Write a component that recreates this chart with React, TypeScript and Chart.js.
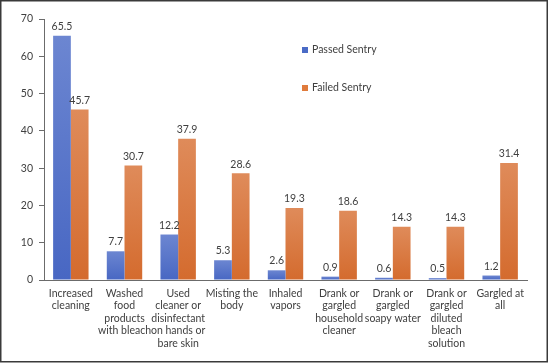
import React, { useEffect, useRef } from "react";
import { Chart, registerables } from "chart.js";

Chart.register(...registerables);

const categories: string[][] = [
  ["Increased", "cleaning"],
  ["Washed", "food", "products", "with bleach"],
  ["Used", "cleaner or", "disinfectant", "on hands or", "bare skin"],
  ["Misting the", "body"],
  ["Inhaled", "vapors"],
  ["Drank or", "gargled", "household", "cleaner"],
  ["Drank or", "gargled", "soapy water"],
  ["Drank or", "gargled", "diluted", "bleach", "solution"],
  ["Gargled at", "all"],
];
const passedSentry = [65.5, 7.7, 12.2, 5.3, 2.6, 0.9, 0.6, 0.5, 1.2];
const failedSentry = [45.7, 30.7, 37.9, 28.6, 19.3, 18.6, 14.3, 14.3, 31.4];
const seriesNames = ["Passed Sentry", "Failed Sentry"];
const yTicks = { min: 0, max: 70, step: 10 };

const FONT = "Lato, 'Liberation Sans', sans-serif";
const TEXT = "#404040";
const BLUE = ["#6c86d1", "#4867c3"];
const ORANGE = ["#df8b5a", "#d46b2e"];
const LEGEND_SWATCH = ["#4a6bc6", "#e07b3c"];

function gradientFor(colors: string[]) {
  return (ctx: any) => {
    const chart = ctx.chart;
    const y = chart.scales?.y;
    if (!y || ctx.raw === undefined) return colors[1];
    const top = y.getPixelForValue(ctx.raw as number);
    const base = y.getPixelForValue(0);
    if (!isFinite(top) || !isFinite(base) || Math.abs(base - top) < 1) return colors[1];
    const g = chart.ctx.createLinearGradient(0, top, 0, base);
    g.addColorStop(0, colors[0]);
    g.addColorStop(1, colors[1]);
    return g;
  };
}

const frameAndLabels = {
  id: "frameAndLabels",
  beforeDraw(chart: any) {
    const c = chart.ctx;
    c.save();
    c.fillStyle = "#ffffff";
    c.fillRect(0, 0, chart.width, chart.height);
    c.strokeStyle = "#3a3a3a";
    c.lineWidth = 1.5;
    c.strokeRect(0.75, 0.75, 546.5, 361);
    c.restore();
  },
  afterDatasetsDraw(chart: any) {
    const c = chart.ctx;
    c.save();
    c.font = `10.5px ${FONT}`;
    c.fillStyle = TEXT;
    c.textAlign = "center";
    c.textBaseline = "bottom";
    chart.data.datasets.forEach((ds: any, di: number) => {
      const meta = chart.getDatasetMeta(di);
      meta.data.forEach((bar: any, i: number) => {
        c.fillText(String(ds.data[i]), bar.x, bar.y - 4);
      });
    });
    // legend
    const lx = 302;
    const ly = [50, 88];
    c.textAlign = "left";
    c.textBaseline = "middle";
    seriesNames.forEach((name, i) => {
      c.fillStyle = LEGEND_SWATCH[i];
      c.fillRect(lx, ly[i] - 3, 6, 6);
      c.fillStyle = TEXT;
      c.fillText(name, lx + 10, ly[i]);
    });
    c.restore();
  },
};

export default function App() {
  const ref = useRef<HTMLCanvasElement | null>(null);
  useEffect(() => {
    if (!ref.current) return;
    const chart = new Chart(ref.current, {
      type: "bar",
      data: {
        labels: categories,
        datasets: [
          {
            label: seriesNames[0],
            data: passedSentry,
            backgroundColor: gradientFor(BLUE),
            barPercentage: 1,
            categoryPercentage: 0.66,
          },
          {
            label: seriesNames[1],
            data: failedSentry,
            backgroundColor: gradientFor(ORANGE),
            barPercentage: 1,
            categoryPercentage: 0.66,
          },
        ],
      },
      options: {
        animation: false,
        responsive: false,
        maintainAspectRatio: false,
        layout: { padding: { top: 19, right: 22, left: 0, bottom: 0 } },
        plugins: {
          legend: { display: false },
          tooltip: { enabled: false },
        },
        scales: {
          x: {
            grid: { display: false, drawTicks: false },
            border: { display: true, color: "#6b6b6b", width: 1 },
            ticks: {
              color: TEXT,
              font: { family: FONT, size: 10.5, lineHeight: 1.2 },
              padding: 7,
              maxRotation: 0,
              autoSkip: false,
            },
            afterFit: (s: any) => {
              s.height = 83;
            },
          },
          y: {
            min: yTicks.min,
            max: yTicks.max,
            grid: {
              display: true,
              drawOnChartArea: false,
              drawTicks: true,
              tickLength: 5,
              color: "#6b6b6b",
            },
            border: { display: true, color: "#6b6b6b", width: 1 },
            ticks: {
              stepSize: yTicks.step,
              color: TEXT,
              font: { family: FONT, size: 10.5 },
              padding: 6,
            },
            afterFit: (s: any) => {
              s.width = 44;
            },
          },
        },
      },
      plugins: [frameAndLabels],
    });
    return () => chart.destroy();
  }, []);
  return (
    <div style={{ position: "absolute", left: 0, top: 0, width: 549, height: 363 }}>
      <canvas ref={ref} width={549} height={363} style={{ width: 549, height: 363, display: "block" }} />
    </div>
  );
}
